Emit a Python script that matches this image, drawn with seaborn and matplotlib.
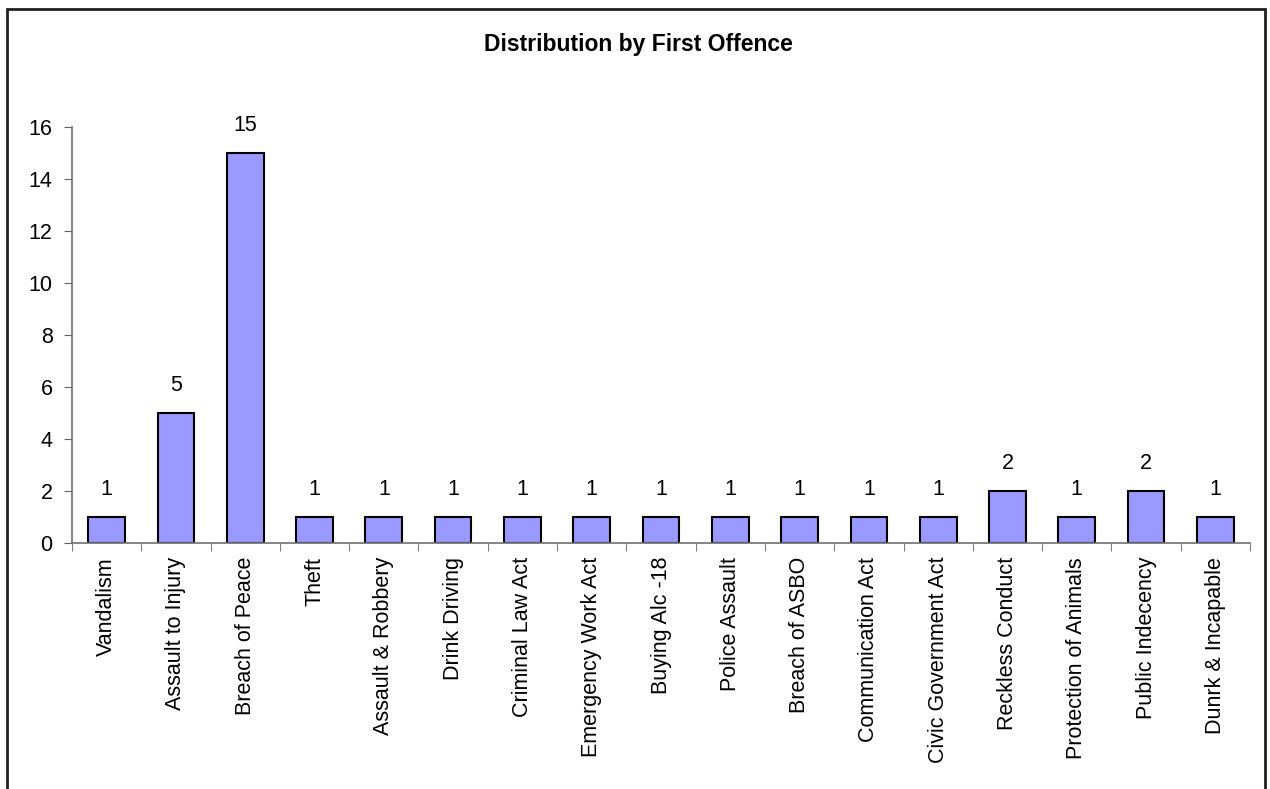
import numpy as np
import pandas as pd
import seaborn as sns
import matplotlib.pyplot as plt
from matplotlib.patches import Rectangle
from matplotlib.ticker import FixedLocator

# Data
offences = ['Vandalism', 'Assault to Injury', 'Breach of Peace', 'Theft',
            'Assault & Robbery', 'Drink Driving', 'Criminal Law Act',
            'Emergency Work Act', 'Buying Alc -18', 'Police Assault',
            'Breach of ASBO', 'Communication Act', 'Civic Government Act',
            'Reckless Conduct', 'Protection of Animals', 'Public Indecency',
            'Dunrk & Incapable']
counts = [1, 5, 15, 1, 1, 1, 1, 1, 1, 1, 1, 1, 1, 2, 1, 2, 1]
y_ticks = [0, 2, 4, 6, 8, 10, 12, 14, 16]

sns.set_style('white')
plt.rcParams['font.family'] = ['Liberation Sans', 'DejaVu Sans']
plt.rcParams['text.color'] = 'black'
plt.rcParams['xtick.color'] = 'black'
plt.rcParams['ytick.color'] = 'black'

df = pd.DataFrame({'offence': offences, 'count': counts})

fig = plt.figure(figsize=(12.7, 7.89), dpi=100)
ax = fig.add_axes([72/1270, 1 - 543/789, (1250-72)/1270, (543-127)/789])

sns.barplot(data=df, x='offence', y='count', color='#9999FF', saturation=1,
            edgecolor='black', linewidth=1.5, width=0.53, ax=ax)

ax.bar_label(ax.containers[0], padding=12, fontsize=15.5, color='black')

ax.set_xlim(-0.5, len(offences) - 0.5)
ax.set_ylim(0, 16)
ax.set_yticks(y_ticks)
ax.set_xlabel('')
ax.set_ylabel('')
ax.set_xticks(range(len(offences)))
ax.set_xticklabels(offences, rotation=90, fontsize=15.5)
ax.xaxis.set_minor_locator(FixedLocator(np.arange(-0.5, len(offences), 1)))
ax.tick_params(axis='x', which='major', length=0, pad=10, labelcolor='black')
ax.tick_params(axis='x', which='minor', length=6, bottom=True, color='#606060')
ax.tick_params(axis='y', length=6, left=True, color='#606060', labelsize=15.5,
               pad=8, labelcolor='black')

for s in ['top', 'right']:
    ax.spines[s].set_visible(False)
for s in ['left', 'bottom']:
    ax.spines[s].set_color('#707070')
    ax.spines[s].set_linewidth(1.2)

fig.text(0.503, 1 - 45/789, 'Distribution by First Offence', ha='center',
         va='center', fontsize=16.5, fontweight='bold', color='black')

# outer chart frame
fig.patches.append(Rectangle((7/1270, -0.05), (1265-7)/1270, 1.05 - 9/789,
                             transform=fig.transFigure, fill=False,
                             edgecolor='#202020', linewidth=2))

fig.savefig('out.png', dpi=100)
